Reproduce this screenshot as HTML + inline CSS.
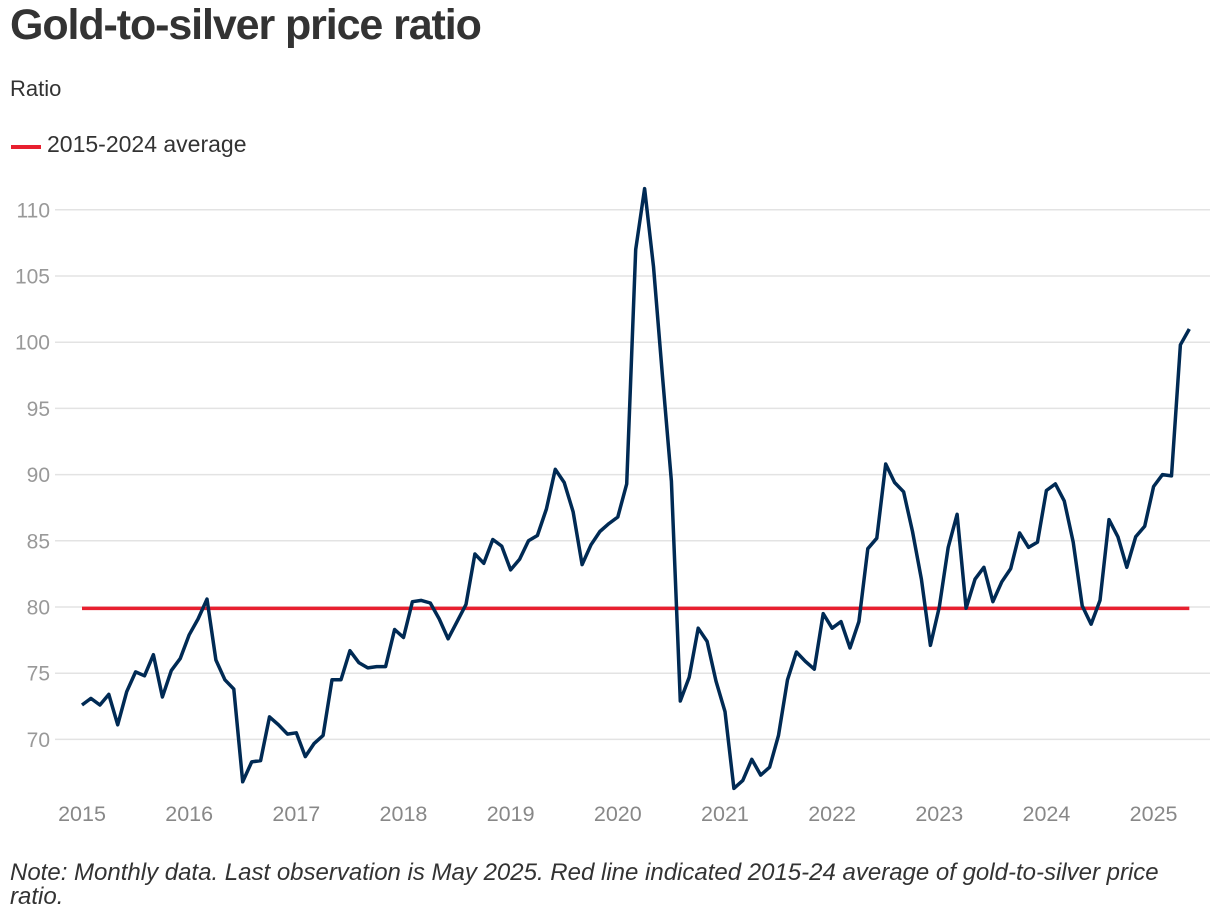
<!DOCTYPE html>
<html><head><meta charset="utf-8"><style>
body{margin:0;background:#fff;font-family:"Liberation Sans",Arial,sans-serif;}
#wrap{position:relative;width:1220px;height:918px;overflow:hidden}
.t{position:absolute;color:#333;white-space:nowrap}
</style></head><body>
<div id="wrap">
<div class="t" style="left:10px;top:1px;font-size:43px;font-weight:bold;letter-spacing:-1.1px">Gold-to-silver price ratio</div>
<div class="t" style="left:10px;top:76px;font-size:22px">Ratio</div>
<div>
<div style="position:absolute;left:11px;top:145px;width:30px;height:4px;background:#e8202f"></div>
<div class="t" style="left:47px;top:131px;font-size:23px">2015-2024 average</div>
</div>
<svg id="chart" width="1220" height="918" style="position:absolute;left:0;top:0"></svg>
<div class="t" style="left:10px;top:861px;font-size:24px;font-style:italic;line-height:24px;white-space:normal;width:1175px">Note: Monthly data. Last observation is May 2025. Red line indicated 2015-24 average of gold-to-silver price ratio.</div>
</div>
<script>
const years=["2015","2016","2017","2018","2019","2020","2021","2022","2023","2024","2025"];
const yTicks=[70,75,80,85,90,95,100,105,110];
const average=79.9;
const ratio=[
72.6,73.1,72.6,73.4,71.1,73.6,75.1,74.8,76.4,73.2,75.2,76.1,
77.9,79.1,80.6,76.0,74.5,73.8,66.8,68.3,68.4,71.7,71.1,70.4,
70.5,68.7,69.7,70.3,74.5,74.5,76.7,75.8,75.4,75.5,75.5,78.3,
77.7,80.4,80.5,80.3,79.1,77.6,78.9,80.2,84.0,83.3,85.1,84.6,
82.8,83.6,85.0,85.4,87.4,90.4,89.4,87.2,83.2,84.7,85.7,86.3,
86.8,89.3,107.0,111.6,105.7,97.5,89.5,72.9,74.7,78.4,77.4,74.4,
72.1,66.3,66.9,68.5,67.3,67.9,70.3,74.5,76.6,75.9,75.3,79.5,
78.4,78.9,76.9,78.9,84.4,85.2,90.8,89.4,88.7,85.7,82.1,77.1,
80.0,84.5,87.0,79.9,82.1,83.0,80.4,81.9,82.9,85.6,84.5,84.9,
88.8,89.3,88.0,84.9,80.1,78.7,80.5,86.6,85.3,83.0,85.3,86.1,
89.1,90.0,89.9,99.8,101.0];
const NS="http://www.w3.org/2000/svg";
const svg=document.getElementById('chart');
const X=i=>82+i*8.93;
const Y=v=>607-(v-80)*13.24;
function mk(tag,attrs){const e=document.createElementNS(NS,tag);for(const k in attrs)e.setAttribute(k,attrs[k]);svg.appendChild(e);return e;}
yTicks.forEach(v=>{
  const g=mk('line',{x1:55,x2:1210,y1:Y(v),y2:Y(v),stroke:'#e3e3e3','stroke-width':1.5});
  
  
  const t=mk('text',{x:50,y:Y(v)+7.5,'text-anchor':'end','font-size':21,fill:'#999','font-family':'Liberation Sans, Arial, sans-serif'});
  t.textContent=v;
  
  
});
years.forEach((yr,k)=>{
  const t=mk('text',{x:X(k*12),y:821,'text-anchor':'middle','font-size':21.5,fill:'#888','font-family':'Liberation Sans, Arial, sans-serif'});
  t.textContent=yr;
  
  
});
const avg=mk('line',{x1:X(0),x2:X(ratio.length-1),y1:Y(average),y2:Y(average),stroke:'#e8202f','stroke-width':3.5});


const p=mk('polyline',{points:ratio.map((v,i)=>X(i).toFixed(1)+','+Y(v).toFixed(1)).join(' '),fill:'none',stroke:'#002a54','stroke-width':3.5,'stroke-linejoin':'round'});


</script>
</body></html>
